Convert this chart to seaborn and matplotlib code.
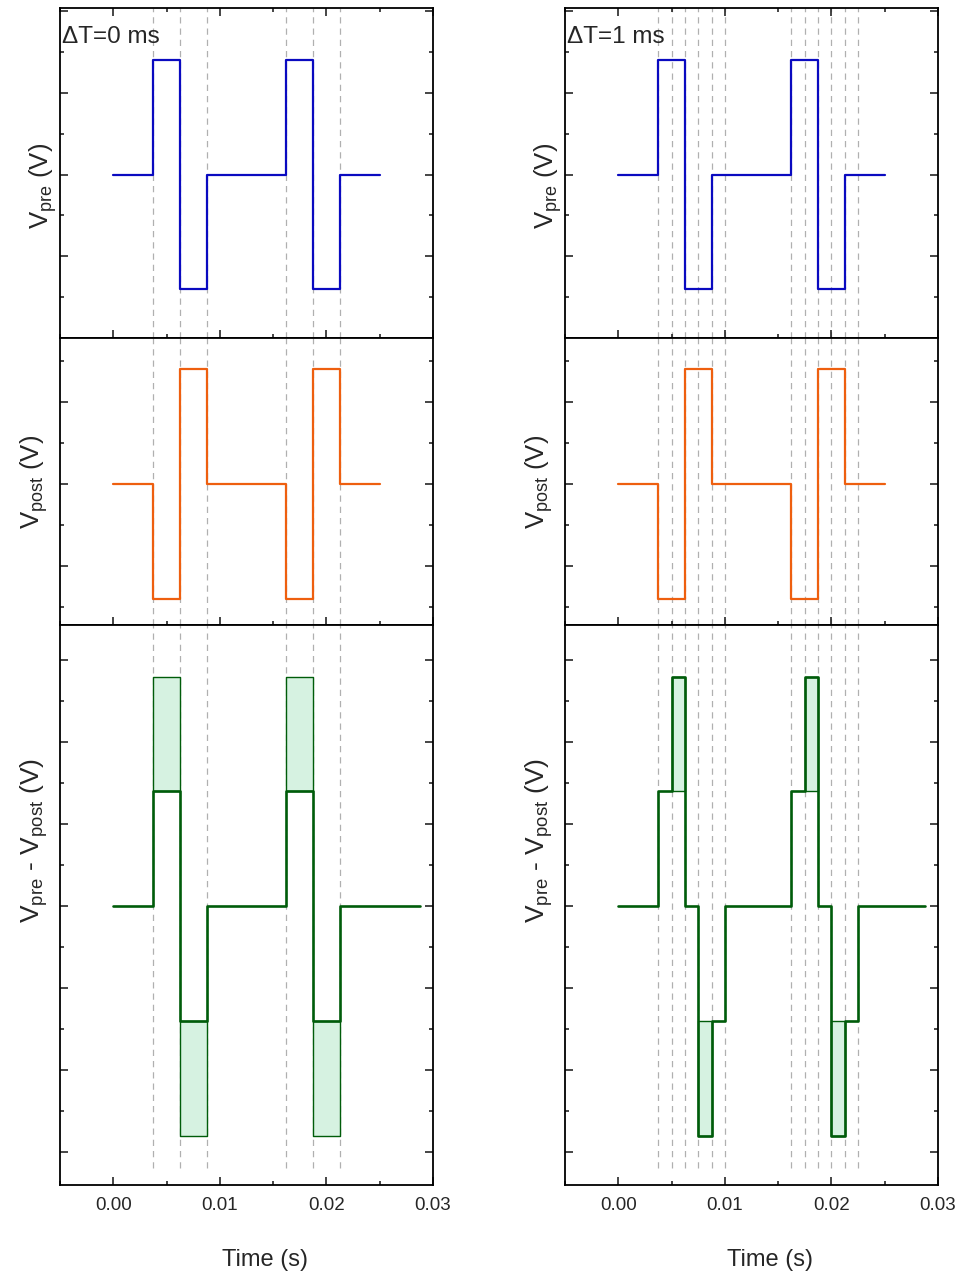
import numpy as np
import matplotlib
matplotlib.use("Agg")
import matplotlib.pyplot as plt
import seaborn as sns
from matplotlib.ticker import MultipleLocator, FormatStrFormatter

# pulse waveforms (step values hold from t[i] to t[i+1])
t_pulse = [0, 0.00375, 0.00625, 0.00875, 0.01625, 0.01875, 0.02125, 0.025]
v_pre = [0, 1.4, -1.4, 0, 1.4, -1.4, 0, 0]
v_post = [0, -1.4, 1.4, 0, -1.4, 1.4, 0, 0]

t_diff0 = [0, 0.00375, 0.00625, 0.00875, 0.01625, 0.01875, 0.02125, 0.0288]
v_diff0 = [0, 2.8, -2.8, 0, 2.8, -2.8, 0, 0]

t_diff1 = [0, 0.00375, 0.005, 0.00625, 0.0075, 0.00875, 0.01,
           0.01625, 0.0175, 0.01875, 0.02, 0.02125, 0.0225, 0.0288]
v_diff1 = [0, 1.4, 2.8, 0, -2.8, -1.4, 0, 1.4, 2.8, 0, -2.8, -1.4, 0, 0]

threshold = 1.4

edges0 = [0.00375, 0.00625, 0.00875, 0.01625, 0.01875, 0.02125]
edges1 = [0.00375, 0.005, 0.00625, 0.0075, 0.00875, 0.01,
          0.01625, 0.0175, 0.01875, 0.02, 0.02125, 0.0225]

dt_labels = ["ΔT=0 ms", "ΔT=1 ms"]

sns.set_style("ticks")
plt.rcParams["font.family"] = ["Liberation Sans", "DejaVu Sans"]
plt.rcParams["mathtext.default"] = "regular"

blue = "#0a0ac0"
orange = "#ee5f0f"
green = "#005c0a"
mint = "#d6f2e1"
grid_gray = "#b0b0b0"

fig = plt.figure(figsize=(9.59, 12.73), dpi=100)

col_x = [60 / 959, 565 / 959]
col_w = 373 / 959
rows = [(8, 338), (338, 625), (625, 1185)]
ylims = [(-2.0, 2.04), (-1.72, 1.78), (-3.40, 3.43)]

columns = [
    (t_diff0, v_diff0, edges0, True),
    (t_diff1, v_diff1, edges1, False),
]

for c, (t_diff, v_diff, edges, clip_line) in enumerate(columns):
    axes = []
    for r, (y0, y1) in enumerate(rows):
        ax = fig.add_axes([col_x[c], 1 - y1 / 1273, col_w, (y1 - y0) / 1273])
        axes.append(ax)

    ax_pre, ax_post, ax_diff = axes

    sns.lineplot(x=t_pulse, y=v_pre, ax=ax_pre, color=blue, lw=1.6,
                 drawstyle="steps-post", estimator=None)
    sns.lineplot(x=t_pulse, y=v_post, ax=ax_post, color=orange, lw=1.6,
                 drawstyle="steps-post", estimator=None)

    # shaded part of the difference above the threshold
    for i in range(len(v_diff) - 1):
        if abs(v_diff[i]) > threshold:
            base = threshold * np.sign(v_diff[i])
            ax_diff.fill_between([t_diff[i], t_diff[i + 1]], base, v_diff[i],
                                 facecolor=mint, edgecolor=green, lw=1.0, zorder=2)
    if clip_line:
        sns.lineplot(x=t_diff, y=np.clip(v_diff, -threshold, threshold), ax=ax_diff,
                     color=green, lw=1.9, drawstyle="steps-post", estimator=None)
    else:
        sns.lineplot(x=t_diff, y=v_diff, ax=ax_diff, color=green, lw=1.9,
                     drawstyle="steps-post", estimator=None)

    for r, ax in enumerate(axes):
        ymin = 0.03 if r == 2 else 0
        for e in edges:
            ax.axvline(e, ymin=ymin, ymax=1, color=grid_gray, lw=0.9,
                       ls=(0, (5, 4)), zorder=0.5)
        ax.set_xlim(-0.005, 0.03)
        ax.set_ylim(*ylims[r])
        ax.xaxis.set_major_locator(MultipleLocator(0.01))
        ax.xaxis.set_minor_locator(MultipleLocator(0.005))
        ax.yaxis.set_major_locator(MultipleLocator(1.0))
        ax.yaxis.set_minor_locator(MultipleLocator(0.5))
        ax.xaxis.set_major_formatter(FormatStrFormatter("%.2f"))
        ax.tick_params(which="both", direction="in", right=True, top=(r == 0),
                       labelleft=False, labelbottom=(r == 2), width=1.2,
                       labelsize=13.5, pad=9)
        ax.tick_params(which="major", length=6)
        ax.tick_params(which="minor", length=3)
        for s in ax.spines.values():
            s.set_linewidth(1.3)
            s.set_color("black")
        ax.set_xlabel("")

    ax_pre.set_ylabel("V$_{pre}$ (V)", fontsize=18.5, labelpad=0.5)
    ax_post.set_ylabel("V$_{post}$ (V)", fontsize=18.5, labelpad=7)
    ax_diff.set_ylabel("V$_{pre}$ - V$_{post}$ (V)", fontsize=19, labelpad=7)
    ax_pre.yaxis.label.set_y(0.46)
    ax_diff.yaxis.label.set_y(0.615)
    ax_diff.set_xlabel("Time (s)", fontsize=17)
    ax_diff.xaxis.set_label_coords(0.55, -0.114)

    ax_pre.text(0.006, 0.893, dt_labels[c], transform=ax_pre.transAxes,
                fontsize=17.5, ha="left", va="baseline")

fig.savefig("out.png", dpi=100)
